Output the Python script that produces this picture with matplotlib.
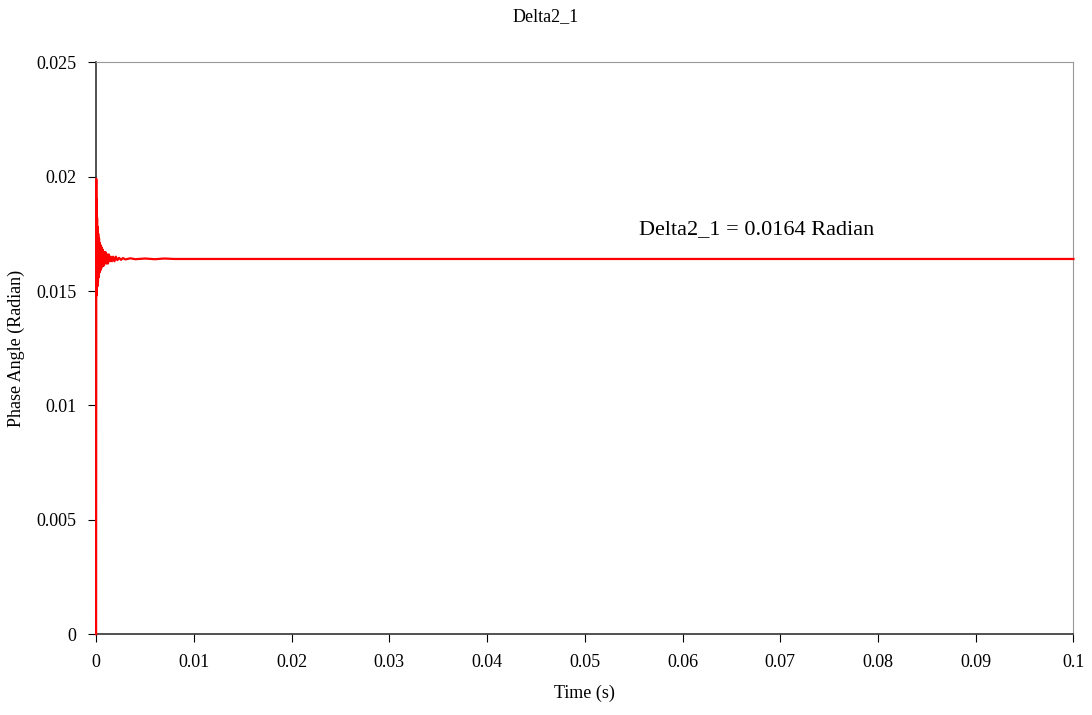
"""
Delta2_1 phase angle transient
"""
import numpy as np
import matplotlib.pyplot as plt

plt.rcParams['font.family'] = ['Liberation Serif', 'DejaVu Serif']

# Time (s) and phase angle (rad)
time_s = [0.0, 0.00002, 0.00004, 0.00006, 0.00008, 0.00010, 0.00013, 0.00016,
          0.00019, 0.00022, 0.00026, 0.00030, 0.00034, 0.00038, 0.00043,
          0.00048, 0.00053, 0.00058, 0.00064, 0.00070, 0.00076, 0.00082,
          0.00089, 0.00096, 0.00104, 0.00112, 0.00121, 0.00130, 0.00140,
          0.00150, 0.00162, 0.00174, 0.00188, 0.00202, 0.00218, 0.00235,
          0.00255, 0.00275, 0.0030, 0.0035, 0.0040, 0.0050, 0.0060,
          0.0070, 0.0080, 0.0095, 0.0200, 0.0400, 0.0600, 0.0800, 0.1000]
delta2_1 = [0.0, 0.0199, 0.0148, 0.0190, 0.0150, 0.0182, 0.0152, 0.0178,
            0.0154, 0.0175, 0.0156, 0.0173, 0.0158, 0.0171, 0.0159,
            0.0170, 0.0160, 0.0169, 0.0161, 0.0168, 0.0161, 0.0167,
            0.0162, 0.0167, 0.0162, 0.0166, 0.0162, 0.0166, 0.0163,
            0.0165, 0.0163, 0.0165, 0.0163, 0.0165, 0.01635, 0.01645,
            0.01636, 0.01644, 0.01638, 0.01643, 0.01639, 0.01642, 0.01639,
            0.01642, 0.0164, 0.0164, 0.0164, 0.0164, 0.0164, 0.0164, 0.0164]

fig, ax = plt.subplots(figsize=(10.92, 7.15), dpi=100)
fig.subplots_adjust(left=0.088, right=0.983, top=0.913, bottom=0.113)

ax.plot(time_s, delta2_1, color='red', linewidth=1.6, zorder=5, clip_on=False)

ax.set_xlim(0, 0.1)
ax.set_ylim(0, 0.025)
ax.set_xticks(np.arange(0, 0.1001, 0.01))
ax.set_xticklabels(['0', '0.01', '0.02', '0.03', '0.04', '0.05', '0.06',
                    '0.07', '0.08', '0.09', '0.1'])
ax.set_yticks([0, 0.005, 0.01, 0.015, 0.02, 0.025])
ax.set_yticklabels(['0', '0.005', '0.01', '0.015', '0.02', '0.025'])
ax.tick_params(direction='out', length=6, labelsize=13, pad=8)

for side in ['top', 'right']:
    ax.spines[side].set_color('#999999')
for side in ['left', 'bottom']:
    ax.spines[side].set_color('#333333')
    ax.spines[side].set_linewidth(1.2)

ax.set_xlabel('Time (s)', fontsize=13, labelpad=10)
ax.set_ylabel('Phase Angle (Radian)', fontsize=13, labelpad=8)
fig.suptitle('Delta2_1', fontsize=13, y=0.988)

ax.text(0.0556, 0.0175, 'Delta2_1 = 0.0164 Radian', fontsize=16)

plt.savefig('out.png', dpi=100)
